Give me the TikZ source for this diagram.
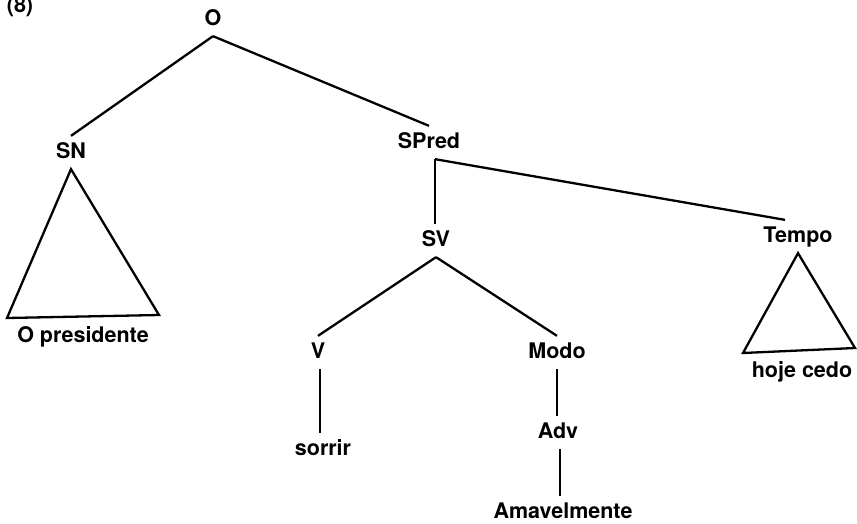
\documentclass[tikz,border=0pt]{standalone}
\usepackage{fontspec}
\setmainfont{TeX Gyre Heros}
\usetikzlibrary{calc}

\begin{document}
\begin{tikzpicture}[x=1pt,y=-1pt,line width=2.3pt,
    cat/.style={anchor=base,inner sep=5pt,text height=16pt,text depth=5pt,font=\fontsize{21.5}{26}\selectfont\bfseries}]
    \useasboundingbox (0,0) rectangle (857,523);
    \node[cat] (num) at (20,12) {(8)};
    \node[cat] (o) at (213,25) {O};
    \node[cat] (sn) at (71,158) {SN};
    \node[cat] (spred) at (429,148) {SPred};
    \node[cat] (pres) at (83,342) {O presidente};
    \node[cat] (sv) at (436,246) {SV};
    \node[cat] (tempo) at (798,242) {Tempo};
    \node[cat] (hoje) at (802,377) {hoje cedo};
    \node[cat] (v) at (318,358) {V};
    \node[cat] (modo) at (557,358) {Modo};
    \node[cat] (sorrir) at (323,455) {sorrir};
    \node[cat] (adv) at (558,438) {Adv};
    \node[cat] (amav) at (563,518) {Amavelmente};
    \coordinate (snL) at (7,318);
    \coordinate (snR) at (159,315);
    \coordinate (tpL) at (743,353);
    \coordinate (tpR) at (855,348);

    \draw (o.south) -- (sn.north);
    \draw (o.south) -- (spred.north);
    \draw ([xshift=6pt]spred.south) -- ([xshift=6pt]spred.south |- sv.north);
    \draw ([xshift=6pt]spred.south) -- ([xshift=-13pt]tempo.north);
    \draw (sv.south) -- (v.north);
    \draw (sv.south) -- (modo.north);
    \draw ([xshift=2pt]v.south) -- ([xshift=2pt]v.south |- sorrir.north);
    \draw (modo.south) -- (modo.south |- adv.north);
    \draw ([xshift=2pt]adv.south) -- ([xshift=2pt]adv.south |- amav.north);
    \draw[line join=miter] (sn.south) -- (snL) -- (snR) -- cycle;
    \draw[line join=miter] (tempo.south) -- (tpL) -- (tpR) -- cycle;
\end{tikzpicture}
\end{document}
